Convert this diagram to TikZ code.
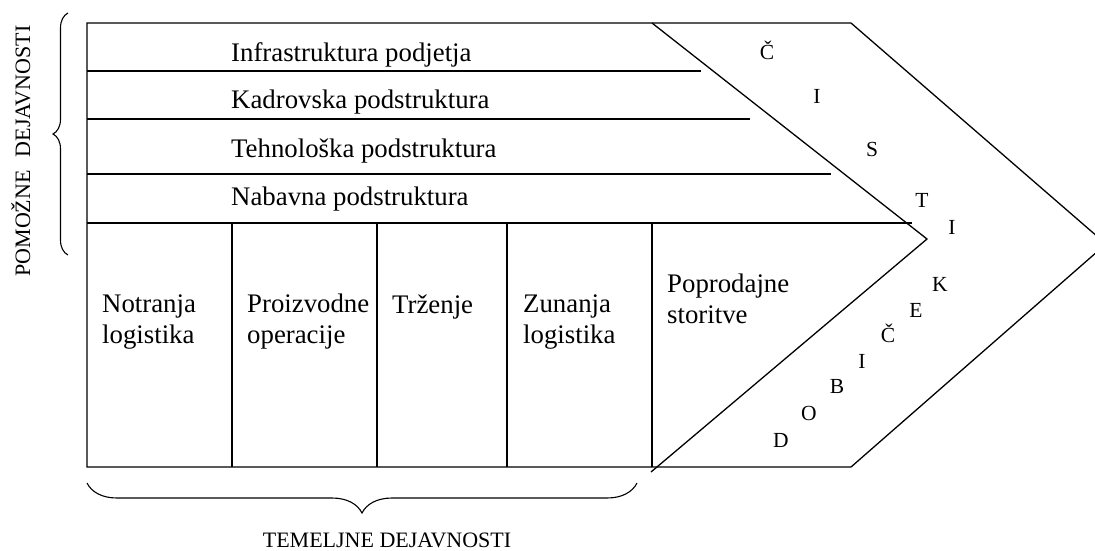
\documentclass[tikz,border=0pt]{standalone}
\usepackage{fontspec}
\setmainfont{Liberation Serif}
\usetikzlibrary{decorations.pathreplacing}
\begin{document}
\begin{tikzpicture}[x=1pt,y=-1pt,
  ln/.style={line width=1.3pt,line join=miter},
  rowtext/.style={anchor=base west,inner sep=0pt,font=\fontsize{26.8}{30.5}\selectfont},
  celltext/.style={anchor=base west,inner sep=0pt,align=left,font=\fontsize{26.8}{30.5}\selectfont},
  letter/.style={anchor=base,inner sep=0pt,font=\fontsize{21.5}{24}\selectfont},
  caption/.style={inner sep=0pt,font=\fontsize{22}{26}\selectfont},
  bracedeco/.style={decorate,line width=1.1pt}]
\useasboundingbox (0,0) rectangle (1095,550);
\clip (0,0) rectangle (1095,550);
% frame coordinates
\coordinate (TL) at (87,23);
\coordinate (TR) at (851,23);
\coordinate (AO) at (1106,244);
\coordinate (BR) at (851,467);
\coordinate (BL) at (87,467);
\coordinate (IT) at (652,23);
\coordinate (IA) at (927,239);
\coordinate (IB) at (651,472);
% row lines
\coordinate (r1a) at (87,71);  \coordinate (r1b) at (701,71);
\coordinate (r2a) at (87,119); \coordinate (r2b) at (750,119);
\coordinate (r3a) at (87,174); \coordinate (r3b) at (831,174);
\coordinate (r4a) at (87,223); \coordinate (r4b) at (912,223);
% column lines
\coordinate (c1a) at (232,223); \coordinate (c1b) at (232,467);
\coordinate (c2a) at (377,223); \coordinate (c2b) at (377,467);
\coordinate (c3a) at (507,223); \coordinate (c3b) at (507,467);
\coordinate (c4a) at (652,223); \coordinate (c4b) at (652,467);
\draw[ln] (TL) -- (TR) -- (AO) -- (BR) -- (BL) -- cycle;
\draw[ln] (IT) -- (IA) -- (IB);
\draw[ln] (r1a) -- (r1b);
\draw[ln] (r2a) -- (r2b);
\draw[ln] (r3a) -- (r3b);
\draw[ln] (r4a) -- (r4b);
\draw[ln] (c1a) -- (c1b);
\draw[ln] (c2a) -- (c2b);
\draw[ln] (c3a) -- (c3b);
\draw[ln] (c4a) -- (c4b);
% support activities
\node[rowtext] (infra) at (231,61) {Infrastruktura podjetja};
\node[rowtext] (kadr) at (231,108) {Kadrovska podstruktura};
\node[rowtext] (tehn) at (231,157) {Tehnološka podstruktura};
\node[rowtext] (nab) at (231,205) {Nabavna podstruktura};
% primary activities (base = last line)
\node[celltext] (notr) at (102,343) {Notranja\\logistika};
\node[celltext] (proi) at (247,343) {Proizvodne\\operacije};
\node[celltext] (trz) at (392,313) {Trženje};
\node[celltext] (zun) at (523,343) {Zunanja\\logistika};
\node[celltext] (popr) at (667,323) {Poprodajne\\storitve};
% margin letters
\node[letter] (m1) at (767,59) {Č};
\node[letter] (m2) at (817,103) {I};
\node[letter] (m3) at (872,156) {S};
\node[letter] (m4) at (922,207) {T};
\node[letter] (m5) at (952,234) {I};
\node[letter] (m6) at (940,291) {K};
\node[letter] (m7) at (916,317) {E};
\node[letter] (m8) at (888,342) {Č};
\node[letter] (m9) at (862,368) {I};
\node[letter] (m10) at (837,393) {B};
\node[letter] (m11) at (809,420) {O};
\node[letter] (m12) at (781,447) {D};
% braces
\coordinate (lb1) at (68,255);
\coordinate (lb2) at (68,13);
\draw[bracedeco,decoration={brace,amplitude=15pt}] (lb1) -- (lb2);
\coordinate (bb1) at (637,483);
\coordinate (bb2) at (87,483);
\draw[bracedeco,decoration={brace,amplitude=30pt}] (bb1) -- (bb2);
\node[caption,anchor=base,rotate=90] (pom) at (30,151) {POMOŽNE\hspace{0.6em}DEJAVNOSTI};
\node[caption,anchor=base] (tem) at (387,547) {TEMELJNE DEJAVNOSTI};
\end{tikzpicture}
\end{document}
